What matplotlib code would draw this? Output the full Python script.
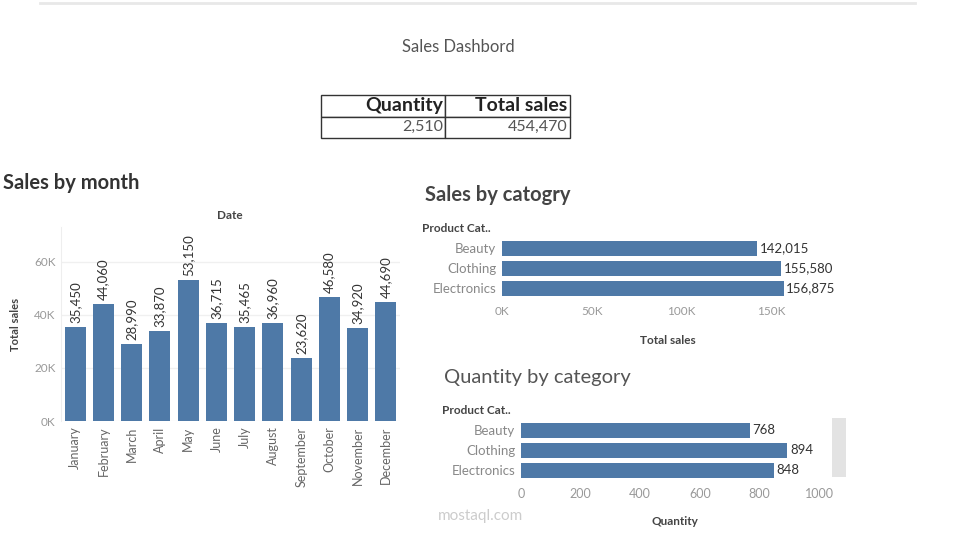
import numpy as np
import matplotlib.pyplot as plt

months = ['January', 'February', 'March', 'April', 'May', 'June', 'July',
          'August', 'September', 'October', 'November', 'December']
month_sales = [35450, 44060, 28990, 33870, 53150, 36715, 35465,
               36960, 23620, 46580, 34920, 44690]

categories = ['Beauty', 'Clothing', 'Electronics']
cat_sales = [142015, 155580, 156875]
cat_qty = [768, 894, 848]

month_ticks = [0, 20000, 40000, 60000]
sales_ticks = [0, 50000, 100000, 150000]
qty_ticks = [0, 200, 400, 600, 800, 1000]

plt.rcParams['font.family'] = ['Lato', 'DejaVu Sans']

W, H = 959, 537
BLUE = '#4e79a7'


def box(x0, y0, x1, y1):
    # pixel box (top-left origin) -> figure fraction rect
    return [x0 / W, 1 - y1 / H, (x1 - x0) / W, (y1 - y0) / H]


def kfmt(v):
    return '%dK' % (v // 1000)


fig = plt.figure(figsize=(W / 100, H / 100), dpi=100)
fig.patch.set_facecolor('white')

# top separator line
fig.add_artist(plt.Line2D([40 / W, 915 / W], [1 - 3 / H, 1 - 3 / H],
                          color='#e8e8e8', lw=2))
fig.text(458 / W, 1 - 47 / H, 'Sales Dashbord', ha='center', va='center',
         fontsize=12, color='#555555')

# KPI table
tax = fig.add_axes(box(321, 95, 570, 138))
tax.axis('off')
tbl = tax.table(cellText=[['Quantity', 'Total sales'],
                          ['{:,}'.format(sum(cat_qty)), '{:,}'.format(sum(month_sales))]],
                cellLoc='right', bbox=[0, 0, 1, 1])
tbl.auto_set_font_size(False)
for (r, c), cell in tbl.get_celld().items():
    cell.set_edgecolor('#333333')
    cell.set_linewidth(1)
    cell.PAD = 0.02
    t = cell.get_text()
    if r == 0:
        t.set_fontsize(14)
        t.set_fontweight('bold')
        t.set_color('#222222')
    else:
        t.set_fontsize(11.5)
        t.set_color('#555555')

# Sales by month
ax1 = fig.add_axes(box(61, 227, 400, 421))
x = np.arange(len(months))
ax1.bar(x, month_sales, width=0.75, color=BLUE, zorder=2)
for xi, v in zip(x, month_sales):
    ax1.annotate('{:,}'.format(v), (xi, v), xytext=(0, 3), textcoords='offset points',
                 rotation=90, ha='center', va='bottom', fontsize=9.5, color='#333333')
ax1.set_xlim(-0.5, 11.5)
ax1.set_ylim(0, 73000)
ax1.set_yticks(month_ticks)
ax1.set_yticklabels([kfmt(v) for v in month_ticks], fontsize=8.5, color='#999999')
ax1.set_xticks(x)
ax1.set_xticklabels(months, rotation=90, fontsize=9, color='#666666')
ax1.tick_params(length=0, pad=4)
ax1.grid(axis='y', color='#f0f0f0', lw=1, zorder=0)
for s in ['top', 'right', 'bottom']:
    ax1.spines[s].set_visible(False)
ax1.spines['left'].set_color('#eeeeee')
ax1.set_ylabel('Total sales', fontsize=8, fontweight='bold', color='#444444', labelpad=9)
fig.text(3 / W, 1 - 183 / H, 'Sales by month', fontsize=14.5, fontweight='bold',
         color='#333333', va='center')
fig.text(230 / W, 1 - 215 / H, 'Date', fontsize=8.5, fontweight='bold',
         color='#444444', ha='center', va='center')

# Sales by category
ax2 = fig.add_axes(box(502, 236, 834, 300))
y = np.arange(len(categories))
ax2.barh(y, cat_sales, height=0.75, color=BLUE)
for yi, v in zip(y, cat_sales):
    ax2.annotate('{:,}'.format(v), (v, yi), xytext=(2, 0), textcoords='offset points',
                 ha='left', va='center', fontsize=9.5, color='#333333')
ax2.set_ylim(2.6, -0.6)
ax2.set_xlim(0, 185000)
ax2.set_yticks(y)
ax2.set_yticklabels(categories, fontsize=9.5, color='#888888')
ax2.set_xticks(sales_ticks)
ax2.set_xticklabels([kfmt(v) for v in sales_ticks], fontsize=8.5, color='#999999')
ax2.tick_params(length=0, pad=4)
for s in ax2.spines.values():
    s.set_visible(False)
ax2.set_xlabel('Total sales', fontsize=8.5, fontweight='bold', color='#444444', labelpad=13)
fig.text(425 / W, 1 - 195 / H, 'Sales by catogry', fontsize=14.5, fontweight='bold',
         color='#444444', va='center')
fig.text(422 / W, 1 - 228 / H, 'Product Cat..', fontsize=8.5, fontweight='bold',
         color='#444444', va='center')

# Quantity by category
ax3 = fig.add_axes(box(521, 418, 828, 482))
ax3.barh(y, cat_qty, height=0.75, color=BLUE)
for yi, v in zip(y, cat_qty):
    ax3.annotate(str(v), (v, yi), xytext=(2, 0), textcoords='offset points',
                 ha='left', va='center', fontsize=9.5, color='#333333')
ax3.set_ylim(2.6, -0.6)
ax3.set_xlim(0, 1030)
ax3.set_yticks(y)
ax3.set_yticklabels(categories, fontsize=9.5, color='#888888')
ax3.set_xticks(qty_ticks)
ax3.set_xticklabels([str(v) for v in qty_ticks], fontsize=9, color='#999999')
ax3.tick_params(length=0, pad=4)
for s in ax3.spines.values():
    s.set_visible(False)
ax3.set_xlabel('Quantity', fontsize=8.5, fontweight='bold', color='#444444', labelpad=12)
fig.text(444 / W, 1 - 378 / H, 'Quantity by category', fontsize=14.5,
         color='#555555', va='center')
fig.text(442 / W, 1 - 410 / H, 'Product Cat..', fontsize=8.5, fontweight='bold',
         color='#444444', va='center')

# scrollbar
fig.add_artist(plt.Rectangle((832 / W, 1 - 477 / H), 14 / W, 59 / H,
                             transform=fig.transFigure, color='#e3e3e3', lw=0))

# watermark
fig.text(480 / W, 1 - 516 / H, 'mostaql.com', fontsize=11, color='#cccccc',
         ha='center', va='center')

fig.savefig('out.png', dpi=100)
